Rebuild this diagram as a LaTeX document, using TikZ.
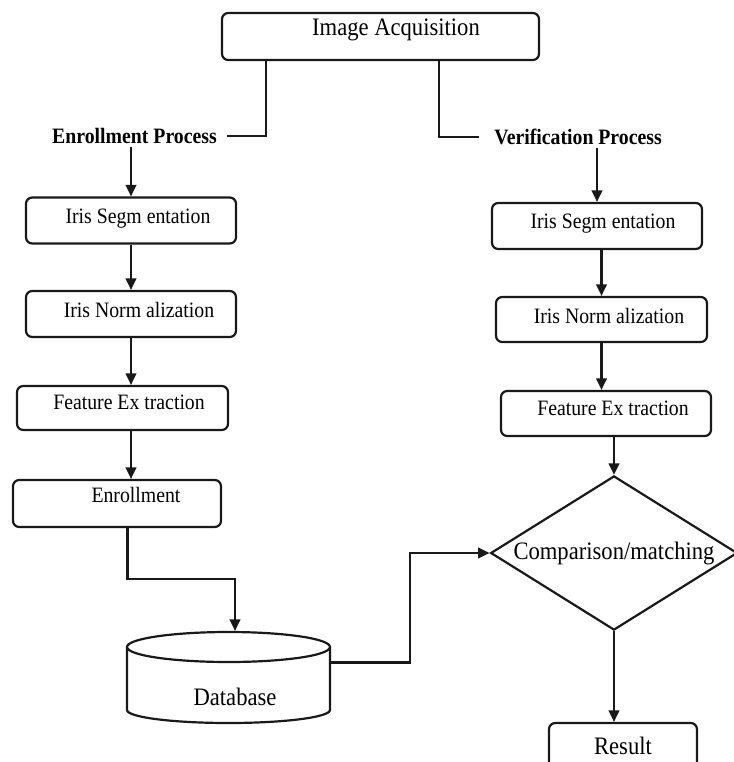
\documentclass[tikz,border=0pt]{standalone}
\usepackage{fontspec}
\setmainfont{Liberation Serif}[FakeStretch=0.9]
\usetikzlibrary{arrows.meta,shapes.geometric}

\begin{document}
\begin{tikzpicture}[x=0.02cm,y=-0.02cm,>={Triangle[length=6.5pt,width=6pt]},line width=1.25pt,draw=black!90,
    box/.style={draw,rounded corners=3.5pt,minimum width=4.2cm,minimum height=0.92cm,inner sep=0pt},
    txt/.style={font=\fontsize{12.5}{14}\selectfont,inner sep=1pt},
    big/.style={font=\fontsize{14.3}{16}\selectfont,inner sep=1pt},
    head/.style={font=\fontsize{12.5}{14}\selectfont\bfseries,inner sep=1pt}]

    \useasboundingbox (0,0) rectangle (734,762);
    \clip (0,0) rectangle (734,762);

    % top
    \draw (380.5,36.5) node[box,minimum width=6.34cm,minimum height=0.94cm] (acq) {};
    \draw (396,30) node[big] (acqtxt) {Image Acquisition};
    \draw (134.5,136) node[head] (enp) {Enrollment Process};
    \draw (578,137) node[head] (vrp) {Verification Process};
    \draw[shorten >=4pt] (acq.south west) ++(45,0) |- (enp.east);
    \draw[shorten >=7pt] (acq.south east) ++(-101,0) |- (vrp.west);

    % enrollment side
    \draw (131,220.5) node[box] (seg1) {};
    \draw (138,219) node[txt] (seg1txt) {Iris Segm entation};
    \draw (131,314) node[box] (norm1) {};
    \draw (139,310) node[txt] (norm1txt) {Iris Norm alization};
    \draw (122.5,408) node[box,minimum width=4.22cm,minimum height=0.88cm] (feat1) {};
    \draw (129,402) node[txt] (feat1txt) {Feature Ex traction};
    \draw (117,503.5) node[box,minimum width=4.16cm,minimum height=0.94cm] (enr) {};
    \draw (136,495) node[txt] (enrtxt) {Enrollment};

    % database drum
    \draw (228.5,677.5) node[minimum width=4.06cm,minimum height=1.82cm,inner sep=0pt] (db) {};
    \draw[fill=white] (127,647) -- (127,710) arc[start angle=180,end angle=0,x radius=101.5,y radius=13] -- (330,647);
    \draw (228.5,647) ellipse [x radius=101.5,y radius=15];
    \draw (235,697) node[big] (dbtxt) {Database};

    \draw[->] (seg1 |- enp.south) -- (seg1.north);
    \draw[->] (seg1) -- (seg1 |- norm1.north);
    \draw[->] (norm1) -- (norm1 |- feat1.north);
    \draw[->] (feat1.south -| seg1) -- (enr.north -| seg1);
    \draw[->] (enr.south) ++(10.5,0) -- ++(0,51) -| (db.north -| dbtxt);

    % verification side
    \draw (597,226) node[box] (seg2) {};
    \draw (603,224) node[txt] (seg2txt) {Iris Segm entation};
    \draw (601.5,319.5) node[box,minimum width=4.22cm,minimum height=0.9cm] (norm2) {};
    \draw (609,316) node[txt] (norm2txt) {Iris Norm alization};
    \draw (606,413.5) node[box,minimum height=0.9cm] (feat2) {};
    \draw (613,408) node[txt] (feat2txt) {Feature Ex traction};
    \draw (614,553) node[diamond,draw,aspect=1.6,minimum width=4.84cm,minimum height=3cm,
        inner sep=0pt,big] (cmp) {Comparison/matching};
    \draw (623,746) node[box,minimum width=2.96cm,big] (res) {Result};

    \draw[->] (seg2 |- vrp.south) -- (seg2.north);
    \draw[->] (seg2.south -| norm2) -- (norm2.north);
    \draw[->] (norm2) -- (norm2 |- feat2.north);
    \draw[->] (feat2.south -| cmp) -- (cmp.north);
    \draw[->] (cmp.south) -- (cmp.south |- res.north);
    \draw[->] (db.east) ++(0,-15) -- ++(79,0) |- (cmp.west);

\end{tikzpicture}
\end{document}
